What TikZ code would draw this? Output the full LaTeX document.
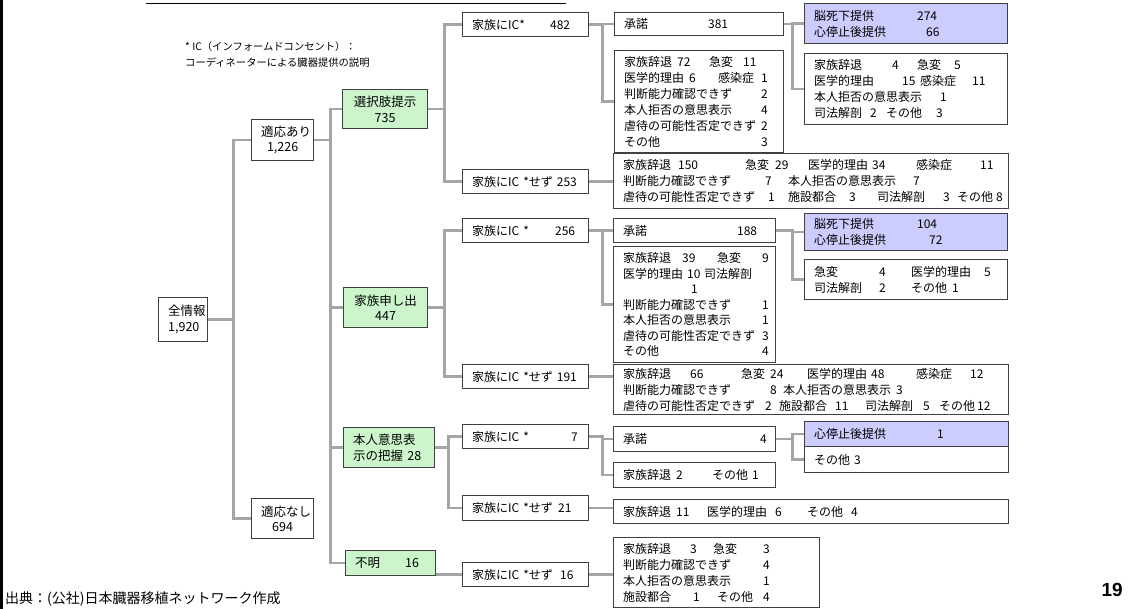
\documentclass[tikz,border=0pt]{standalone}
\usepackage{fontspec}
\setmainfont{Noto Sans CJK JP}
\newfontfamily\numfont{Liberation Sans}
\definecolor{cgray}{RGB}{165,165,165}
\definecolor{edge}{RGB}{64,64,64}
\definecolor{grn}{RGB}{204,245,204}
\definecolor{prp}{RGB}{204,204,255}
\newcommand\seg[2]{\makebox[#1pt][l]{#2}}
\newcommand\bx[7]{\pgfmathsetmacro\boxW{#4-#2-19}\pgfmathsetmacro\boxH{#5-#3}%
  \node[#6,text width=\boxW pt,minimum height=\boxH pt,anchor=north west] (#1) at (#2,#3) {#7};}
\tikzset{
  box/.style={draw=edge, line width=1.3pt, fill=white, inner xsep=9.5pt, inner ysep=0pt, align=left, font=\fontsize{12}{16}\selectfont},
  cbox/.style={box, align=center, font=\fontsize{12.5}{15.5}\selectfont},
  gbox/.style={box, fill=grn, font=\fontsize{12.5}{15.5}\selectfont},
  pbox/.style={box, fill=prp},
  link/.style={draw=cgray, line width=2.6pt}
}
\begin{document}
\begin{tikzpicture}[x=1pt,y=-1pt]
\useasboundingbox (0,0) rectangle (1131,609);
\fill[white] (0,0) rectangle (1131,609);
\fill[black] (0,0) rectangle (3,609);
\draw[line width=1.3pt] (146,3.5) -- (566,3.5);
% note
\node[anchor=north west, align=left, inner sep=0pt, font=\fontsize{10.3}{16}\selectfont] (note) at (185,41)
  {* IC（インフォームドコンセント）：\\コーディネーターによる臓器提供の説明};
% level 1
\bx{all}{158}{297}{207}{341}{cbox}{全情報\\1,920}
\bx{yes}{251}{119}{313}{160}{cbox}{適応あり\\1,226}
\bx{no}{251}{498}{313}{538}{cbox}{適応なし\\694}
% level 2
\bx{sel}{342}{89}{427}{128}{gbox,align=center}{選択肢提示\\735}
\bx{fam}{343}{287}{427}{327}{gbox,align=center}{家族申し出\\447}
\bx{selfw}{343}{427}{434}{467}{gbox}{本人意思表\\示の把握 28}
\bx{unk}{345}{550}{435}{575}{gbox}{\seg{50}{不明}16}
% level 3
\bx{ic482}{462}{12}{588}{36}{box}{\seg{78}{家族にIC*}482}
\bx{ns253}{462}{169}{588}{193}{box}{家族にIC *せず 253}
\bx{ic256}{462}{218}{588}{242}{box}{\seg{83}{家族にIC *}256}
\bx{ns191}{462}{364}{588}{388}{box}{家族にIC *せず 191}
\bx{ic7}{462}{424}{588}{448}{box}{\seg{99}{家族にIC *}7}
\bx{ns21}{462}{495}{588}{520}{box}{\seg{86}{家族にIC *せず}21}
\bx{ns16}{462}{562}{588}{586}{box}{\seg{88}{家族にIC *せず}16}
% level 4
\bx{ok381}{614}{12}{783}{35}{box}{\seg{84}{承諾}381}
\bx{r482}{614}{50}{783}{152}{box}{%
\seg{53}{家族辞退}\seg{32}{72}\seg{34}{急変}11\\
\seg{65}{医学的理由}\seg{29}{6}\seg{43}{感染症}1\\
\seg{137}{判断能力確認できず}2\\
\seg{137}{本人拒否の意思表示}4\\
\seg{137}{虐待の可能性否定できず}2\\
\seg{137}{その他}3}
\bx{r253}{613}{153}{1008}{208}{box}{%
\seg{55}{家族辞退}\seg{67}{150}\seg{30}{急変}\seg{33}{29}\seg{64}{医学的理由}\seg{44}{34}\seg{64}{感染症}11\\
\seg{142}{判断能力確認できず}\seg{23}{7}\seg{125}{本人拒否の意思表示}7\\
\seg{145}{虐待の可能性否定できず}\seg{20}{1}\seg{61}{施設都合}\seg{28}{3}\seg{66}{司法解剖}\seg{14}{3}\seg{39}{その他}8}
\bx{ok188}{613}{218}{775}{242}{box}{\seg{114}{承諾}188}
\bx{r256}{613}{246}{775}{362}{box,font=\fontsize{12}{15.5}\selectfont}{%
\seg{59}{家族辞退}\seg{35}{39}\seg{45}{急変}9\\
\seg{64}{医学的理由}\seg{17}{10}司法解剖\\
\hspace*{68pt}1\\
\seg{139}{判断能力確認できず}1\\
\seg{139}{本人拒否の意思表示}1\\
\seg{139}{虐待の可能性否定できず}3\\
\seg{139}{その他}4}
\bx{r191}{613}{364}{1008}{414}{box}{%
\seg{67}{家族辞退}\seg{51}{66}\seg{29}{急変}\seg{37}{24}\seg{64}{医学的理由}\seg{45}{48}\seg{54}{感染症}12\\
\seg{147}{判断能力確認できず}\seg{13}{8}\seg{113}{本人拒否の意思表示}3\\
\seg{142}{虐待の可能性否定できず}\seg{14}{2}\seg{56}{施設都合}\seg{30}{11}\seg{58}{司法解剖}\seg{16}{5}\seg{38}{その他}12}
\bx{ok4}{613}{426}{775}{451}{box}{\seg{137}{承諾}4}
\bx{r7}{613}{462}{775}{487}{box}{\seg{53}{家族辞退}\seg{36}{2}\seg{40}{その他}1}
\bx{r21}{613}{499}{1008}{523}{box}{\seg{53}{家族辞退}\seg{31}{11}\seg{68}{医学的理由}\seg{32}{6}\seg{44}{その他}4}
\bx{r16}{613}{537}{819}{607}{box}{%
\seg{67}{家族辞退}\seg{23}{3}\seg{50}{急変}3\\
\seg{140}{判断能力確認できず}4\\
\seg{140}{本人拒否の意思表示}1\\
\seg{70}{施設都合}\seg{24}{1}\seg{46}{その他}4}
% level 5
\bx{p274}{804}{3}{1007}{43}{pbox}{\seg{103}{脳死下提供}274\\\seg{112}{心停止後提供}66}
\bx{r274}{804}{53}{1007}{124}{box}{%
\seg{78}{家族辞退}\seg{25}{4}\seg{37}{急変}5\\
\seg{88}{医学的理由}\seg{18}{15}\seg{52}{感染症}11\\
\seg{126}{本人拒否の意思表示}1\\
\seg{56}{司法解剖}\seg{16}{2}\seg{50}{その他}3}
\bx{p104}{804}{213}{1007}{250}{pbox}{\seg{103}{脳死下提供}104\\\seg{115}{心停止後提供}72}
\bx{r104}{804}{259}{1007}{299}{box}{%
\seg{65}{急変}\seg{32}{4}\seg{73}{医学的理由}5\\
\seg{65}{司法解剖}\seg{32}{2}\seg{41}{その他}1}
\bx{p1}{804}{421}{1008}{446}{pbox}{\seg{123}{心停止後提供}1}
\bx{o3}{804}{446}{1008}{472}{box}{その他 3}
% connectors
\draw[link] (all.east) -- ++(25,0) |- (yes.west);
\draw[link] (all.east) -- ++(25,0) |- (no.west);
\draw[link] (yes.east) -- ++(16,0) |- (sel.west);
\draw[link] (yes.east) -- ++(16,0) |- (fam.west);
\draw[link] (yes.east) -- ++(16,0) |- (selfw.west);
\draw[link] (yes.east) -- ++(16,0) |- (unk.west);
\draw[link] (sel.east) -- ++(16,0) |- (ic482.west);
\draw[link] (sel.east) -- ++(16,0) |- (ns253.west);
\draw[link] (fam.east) -- ++(16,0) |- (ic256.west);
\draw[link] (fam.east) -- ++(16,0) |- (ns191.west);
\draw[link] (selfw.east) -- ++(13,0) |- (ic7.west);
\draw[link] (selfw.east) -- ++(13,0) |- (ns21.west);
\draw[link] (ns16.west -| unk.east) -- (ns16.west);
\draw[link] (ic482.east) -- ++(13,0) |- (ok381.west);
\draw[link] (ic482.east) -- ++(13,0) |- (r482.west);
\draw[link] (ns253.east) -- (ns253.east -| r253.west);
\draw[link] (ic256.east) -- ++(13,0) |- (ok188.west);
\draw[link] (ic256.east) -- ++(13,0) |- (r256.west);
\draw[link] (ns191.east) -- (ns191.east -| r191.west);
\draw[link] (ic7.east) -- ++(13,0) |- (ok4.west);
\draw[link] (ic7.east) -- ++(13,0) |- (r7.west);
\draw[link] (ns21.east) -- (ns21.east -| r21.west);
\draw[link] (ns16.east) -- (ns16.east -| r16.west);
\draw[link] (ok381.east) -- ++(8,0) |- (p274.west);
\draw[link] (ok381.east) -- ++(8,0) |- (r274.west);
\draw[link] (ok188.east) -- ++(16,0) |- (p104.west);
\draw[link] (ok188.east) -- ++(16,0) |- (r104.west);
\draw[link] (ok4.east) -- ++(16,0) |- (p1.west);
\draw[link] (ok4.east) -- ++(16,0) |- (o3.west);
% footer
\node[anchor=base west, inner sep=0pt, font=\fontsize{14}{14}\selectfont] (src) at (5,603) {出典：(公社)日本臓器移植ネットワーク作成};
\node[anchor=base east, inner sep=0pt, font=\numfont\bfseries\fontsize{19}{19}\selectfont] (pg) at (1123,596) {19};
\end{tikzpicture}
\end{document}
